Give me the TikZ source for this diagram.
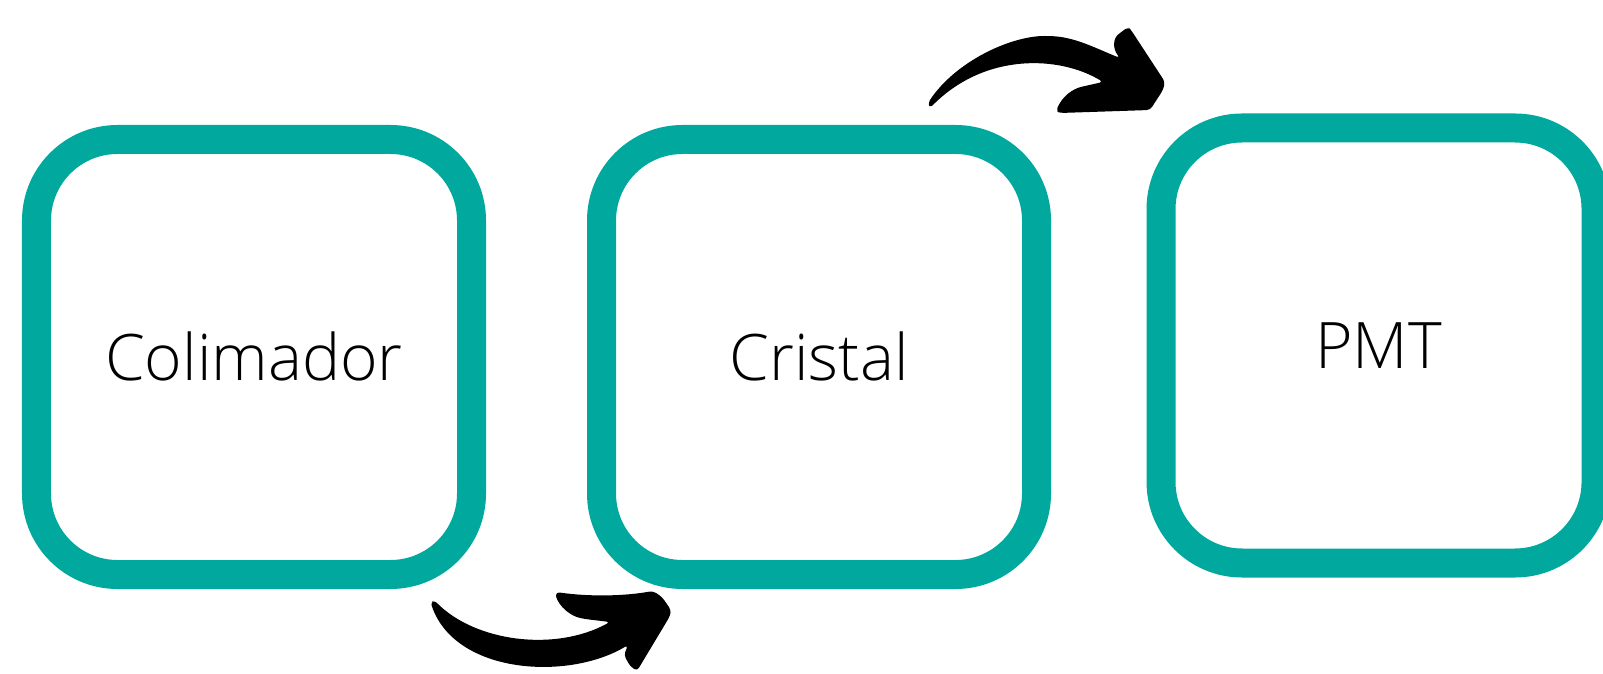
\documentclass[tikz,border=0pt]{standalone}
\usepackage{fontspec}
\setmainfont{Open Sans Light}
\usetikzlibrary{positioning}
\definecolor{boxteal}{HTML}{00A89D}
\definecolor{arrowink}{HTML}{000000}

\begin{document}
\begin{tikzpicture}[x=0.2mm, y=-0.2mm,
  stagebox/.style={rectangle, rounded corners=16.2mm, draw=boxteal, line width=5.8mm,
    outer sep=0pt, minimum width=87mm, minimum height=87mm,
    text height=9.2mm, text depth=0pt, font=\fontsize{36.5}{40}\selectfont}]
  \useasboundingbox (0,0) rectangle (1603,674);

  % Stages
  \node[stagebox] (colimador) at (254,357) {Colimador};
  \node[stagebox, right=26mm of colimador] (cristal) {Cristal};
  \node[stagebox, right=24.9mm of cristal, yshift=2.3mm] (pmt) {PMT};

  % Lower curved arrow (Colimador -> Cristal)
  \fill[arrowink, rounded corners=2] (434,600)
    .. controls (475,642) and (555,652) .. (610,622)
    -- (585,619) .. controls (565,615) and (556,600) .. (556,592)
    .. controls (590,597) and (625,596) .. (653,591)
    -- (662,597) -- (671,610) -- (670,616) -- (637,671) -- (630,666) -- (624,655) -- (628,645)
    .. controls (570,680) and (460,675) .. (432,607)
    -- (431,603) -- cycle;

  % Upper curved arrow (Cristal -> PMT)
  \fill[arrowink, rounded corners=2] (928,103)
    .. controls (955,62) and (1010,36) .. (1048,36)
    .. controls (1075,37) and (1095,48) .. (1120,58)
    .. controls (1112,48) and (1114,38) .. (1120,33)
    -- (1128,27) -- (1131,30) -- (1165,82) -- (1163,90) -- (1150,110) -- (1060,113) -- (1056,111)
    .. controls (1062,97) and (1072,89) .. (1085,86) -- (1103,82)
    .. controls (1060,56) and (985,52) .. (930,108)
    -- cycle;
\end{tikzpicture}
\end{document}
